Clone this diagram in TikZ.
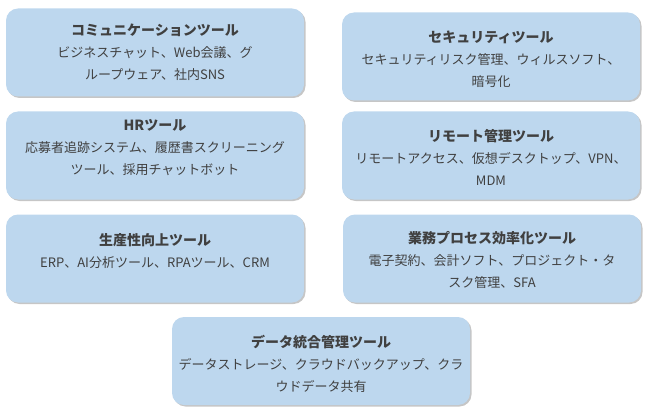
\documentclass[tikz,border=0pt]{standalone}
\usepackage{fontspec}
\setmainfont{Noto Sans CJK JP}
\usetikzlibrary{shadows}

\definecolor{boxblue}{HTML}{BDD7EE}
\definecolor{textgray}{HTML}{404040}
\newcommand{\tooltitle}[1]{{\fontsize{14}{23}\selectfont\bfseries #1}}

\begin{document}
\begin{tikzpicture}[x=1pt,y=-1pt]
	\tikzstyle{toolbox}=[rounded corners=12pt, fill=boxblue, minimum width=298pt, minimum height=88pt,
		drop shadow={shadow xshift=1.5pt, shadow yshift=-1.5pt, opacity=0.45, fill=gray}]
	\tikzstyle{tooltext}=[align=center, text=textgray, font=\fontsize{13}{22}\selectfont]
	\useasboundingbox (0,0) rectangle (650,414);
	% boxes
	\node[toolbox] (comm) at (155,52.5) {};
	\node[toolbox] (hr) at (155,155.5) {};
	\node[toolbox] (prod) at (155,258.5) {};
	\node[toolbox] (sec) at (491,56.5) {};
	\node[toolbox] (remote) at (491,155.5) {};
	\node[toolbox] (biz) at (492,258.5) {};
	\node[toolbox] (data) at (321,361) {};
	% texts
	\node[tooltext] (commtext) at (comm.center)
		{\tooltitle{コミュニケーションツール}\\ビジネスチャット、Web会議、グ\\ループウェア、社内SNS};
	\node[tooltext] (hrtext) at ([yshift=8pt]hr.center)
		{\tooltitle{HRツール}\\応募者追跡システム、履歴書スクリーニング\\ツール、採用チャットボット};
	\node[tooltext] (prodtext) at ([yshift=7pt]prod.center)
		{\tooltitle{生産性向上ツール}\\ERP、AI分析ツール、RPAツール、CRM};
	\node[tooltext] (sectext) at ([yshift=-2.5pt]sec.center)
		{\tooltitle{セキュリティツール}\\セキュリティリスク管理、ウィルスソフト、\\暗号化};
	\node[tooltext] (remotetext) at ([yshift=-2pt]remote.center)
		{\tooltitle{リモート管理ツール}\\リモートアクセス、仮想デスクトップ、VPN、\\MDM};
	\node[tooltext] (biztext) at ([yshift=-1pt]biz.center)
		{\tooltitle{業務プロセス効率化ツール}\\電子契約、会計ソフト、プロジェクト・タ\\スク管理、SFA};
	\node[tooltext] (datatext) at ([yshift=-3pt]data.center)
		{\tooltitle{データ統合管理ツール}\\データストレージ、クラウドバックアップ、クラ\\ウドデータ共有};
\end{tikzpicture}
\end{document}
